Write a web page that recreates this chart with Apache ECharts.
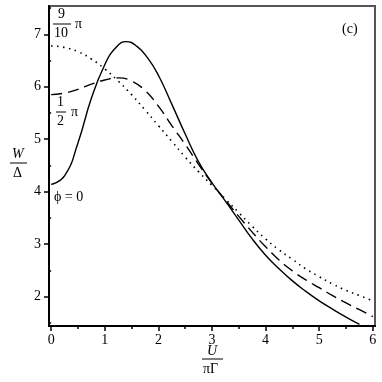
<!DOCTYPE html>
<html>
<head>
<meta charset="utf-8">
<script src="https://cdn.jsdelivr.net/npm/echarts@6/dist/echarts.min.js"></script>
<style>
  html, body { margin: 0; padding: 0; background: #fff; }
  #chart { width: 382px; height: 382px; }
</style>
</head>
<body>
<div id="chart"></div>
<script>
// U / (pi Gamma) sample points
const xs = [0, 0.25, 0.5, 0.75, 1, 1.25, 1.5, 1.75, 2, 2.25, 2.5, 2.75, 3,
  3.25, 3.5, 3.75, 4, 4.25, 4.5, 4.75, 5, 5.25, 5.5, 5.75, 6]
// the phi = 0 curve is read on a slightly different grid around its peak
const xsPhi0 = [0, 0.25, 0.5, 0.75, 1, 1.2, 1.4, 1.6, 1.8, 2, 2.25, 2.5, 2.75, 3,
  3.25, 3.5, 3.75, 4, 4.25, 4.5, 4.75, 5, 5.25, 5.5, 5.75]

// W / Delta for phi = 0, pi/2, 9pi/10
const phi0 = [4.14, 4.30, 4.93, 5.78, 6.42, 6.74, 6.86, 6.77, 6.55, 6.22, 5.67, 5.10,
  4.57, 4.17, 3.82, 3.46, 3.10, 2.79, 2.53, 2.30, 2.10, 1.92, 1.76, 1.61, 1.47]
const phiHalf = [5.85, 5.88, 5.95, 6.05, 6.13, 6.17, 6.11, 5.93, 5.63, 5.26, 4.90,
  4.52, 4.16, 3.84, 3.53, 3.23, 2.95, 2.70, 2.49, 2.32, 2.17, 2.02, 1.88, 1.75, 1.62]
const phiNine = [6.78, 6.75, 6.67, 6.53, 6.34, 6.11, 5.85, 5.56, 5.26, 4.96, 4.66,
  4.38, 4.12, 3.86, 3.60, 3.34, 3.10, 2.89, 2.71, 2.53, 2.38, 2.24, 2.12, 2.02, 1.92]

const xTicks = [0, 1, 2, 3, 4, 5, 6]
const xMinor = [0.5, 1.5, 2.5, 3.5, 4.5, 5.5]
const yTicks = [2, 3, 4, 5, 6, 7]
const yMinor = [1.5, 2.5, 3.5, 4.5, 5.5, 6.5, 7.5]

const serif = '"Liberation Serif", "DejaVu Serif", serif'
const fnt = '14px ' + serif

function pairs(xv, ys) {
  return xv.map((x, i) => [x, ys[i]])
}

function fraction(x, y, num, den, width) {
  return [
    { type: 'text', left: x - 4 * num.length, top: y, style: { text: num, font: fnt, fill: '#000' } },
    { type: 'line', shape: { x1: x - width / 2, y1: y + 17, x2: x + width / 2, y2: y + 17 }, style: { stroke: '#000', lineWidth: 1 } },
    { type: 'text', left: x - 4 * den.length, top: y + 19, style: { text: den, font: fnt, fill: '#000' } },
  ]
}

const xRange = { min: -0.04, max: 6.04 }
const yRange = { min: 1.44, max: 7.54 }

const chart = echarts.init(document.getElementById('chart'))

const opts = {
  animation: false,
  grid: {
    left: 49, top: 6, right: 7, bottom: 56,
    show: true,
    borderColor: '#555',
    borderWidth: 2,
  },
  xAxis: [{
    type: 'value',
    ...xRange,
    splitLine: { show: false },
    axisLine: { show: true, onZero: false, lineStyle: { color: '#000', width: 2 } },
    axisTick: { show: true, customValues: xTicks, length: 5, lineStyle: { color: '#000', width: 1.5 } },
    axisLabel: { customValues: xTicks, color: '#000', fontFamily: serif, fontSize: 14, margin: 7 },
  }, {
    type: 'value',
    ...xRange,
    position: 'bottom',
    splitLine: { show: false },
    axisLine: { show: false },
    axisTick: { show: true, customValues: xMinor, length: 3, lineStyle: { color: '#000', width: 1.5 } },
    axisLabel: { show: false },
  }],
  yAxis: [{
    type: 'value',
    ...yRange,
    splitLine: { show: false },
    axisLine: { show: true, onZero: false, lineStyle: { color: '#000', width: 2 } },
    axisTick: { show: true, customValues: yTicks, length: 5, lineStyle: { color: '#000', width: 1.5 } },
    axisLabel: { customValues: yTicks, color: '#000', fontFamily: serif, fontSize: 14, margin: 8 },
  }, {
    type: 'value',
    ...yRange,
    position: 'left',
    splitLine: { show: false },
    axisLine: { show: false },
    axisTick: { show: true, customValues: yMinor, length: 3, lineStyle: { color: '#000', width: 1.5 } },
    axisLabel: { show: false },
  }],
  series: [{
    type: 'line',
    data: pairs(xsPhi0, phi0),
    smooth: 0.5,
    symbol: 'none',
    clip: true,
    lineStyle: { color: '#000', width: 1.4 },
  }, {
    type: 'line',
    data: pairs(xs, phiHalf),
    smooth: 0.5,
    symbol: 'none',
    clip: true,
    lineStyle: { color: '#000', width: 1.4, type: [11, 6] },
  }, {
    type: 'line',
    data: pairs(xs, phiNine),
    smooth: 0.5,
    symbol: 'none',
    clip: true,
    lineStyle: { color: '#000', width: 1.6, type: [1.5, 4.5] },
  }],
  graphic: [
    ...fraction(62, 7, '9', '10', 18),
    { type: 'text', left: 75, top: 17, style: { text: 'π', font: fnt, fill: '#000' } },
    ...fraction(61, 95, '1', '2', 10),
    { type: 'text', left: 71, top: 105, style: { text: 'π', font: fnt, fill: '#000' } },
    { type: 'text', left: 54, top: 190, style: { text: 'ϕ = 0', font: fnt, fill: '#000' } },
    { type: 'text', left: 342, top: 22, style: { text: '(c)', font: fnt, fill: '#000' } },
    // y axis title W / Delta
    { type: 'text', left: 12, top: 147, style: { text: 'W', font: 'italic ' + fnt, fill: '#000' } },
    { type: 'line', shape: { x1: 10, y1: 163, x2: 27, y2: 163 }, style: { stroke: '#000', lineWidth: 1 } },
    { type: 'text', left: 13, top: 166, style: { text: 'Δ', font: fnt, fill: '#000' } },
    // x axis title U / (pi Gamma)
    { type: 'text', left: 207, top: 344, style: { text: 'U', font: 'italic ' + fnt, fill: '#000' } },
    { type: 'line', shape: { x1: 202, y1: 359, x2: 223, y2: 359 }, style: { stroke: '#000', lineWidth: 1 } },
    { type: 'text', left: 203, top: 362, style: { text: 'πΓ', font: fnt, fill: '#000' } },
  ],
}

chart.setOption(opts)
</script>
</body>
</html>
